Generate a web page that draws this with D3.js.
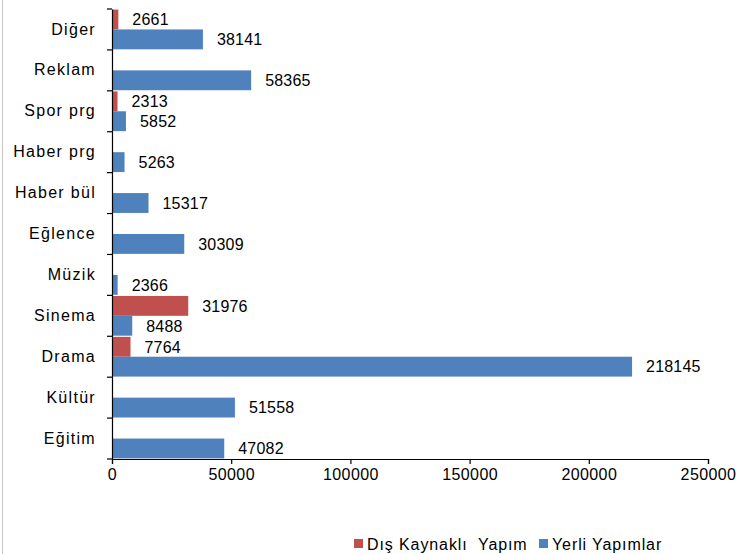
<!DOCTYPE html>
<html>
<head>
<meta charset="utf-8">
<script src="https://cdn.jsdelivr.net/npm/d3@7"></script>
<style>
  html, body { margin: 0; padding: 0; background: #fff; }
  svg { display: block; }
  text { font-family: "Liberation Sans", Arial, sans-serif; fill: #000; }
</style>
</head>
<body>
<svg id="chart" width="736" height="554"></svg>
<script>
const categories = ["Diğer", "Reklam", "Spor prg", "Haber prg", "Haber bül", "Eğlence", "Müzik", "Sinema", "Drama", "Kültür", "Eğitim"];
const disKaynakli = [2661, null, 2313, null, null, null, null, 31976, 7764, null, null];
const yerli = [38141, 58365, 5852, 5263, 15317, 30309, 2366, 8488, 218145, 51558, 47082];
const seriesNames = ["Dış Kaynaklı  Yapım", "Yerli Yapımlar"];
const xTicks = [0, 50000, 100000, 150000, 200000, 250000];
const colors = ["#C0504D", "#4F81BD"];

const svg = d3.select("#chart");
const margin = { left: 112, right: 28, top: 9, bottom: 95 };
const W = 736, H = 554;

// chart area left border
svg.append("line").attr("x1", 2.5).attr("x2", 2.5).attr("y1", 0).attr("y2", H)
  .attr("stroke", "#c8c8c8").attr("stroke-width", 1);

const x = d3.scaleLinear().domain([0, 250000]).range([margin.left, 708]);
const y = d3.scaleBand().domain(categories).range([margin.top, H - margin.bottom]).paddingInner(0).paddingOuter(0);
const sub = d3.scaleBand().domain([0, 1]).range([0, y.bandwidth()]).paddingOuter(0.03).paddingInner(0);

const series = [disKaynakli, yerli];
series.forEach((vals, si) => {
  const g = svg.append("g");
  const data = categories.map((c, i) => ({ c, v: vals[i] })).filter(d => d.v != null);
  g.selectAll("rect").data(data).enter().append("rect")
    .attr("x", x(0))
    .attr("y", d => y(d.c) + sub(si))
    .attr("width", d => x(d.v) - x(0))
    .attr("height", sub.bandwidth())
    .attr("fill", colors[si]);
  g.selectAll("text").data(data).enter().append("text")
    .attr("x", d => x(d.v) + 14)
    .attr("y", d => y(d.c) + sub(si) + sub.bandwidth() / 2)
    .attr("dy", "0.36em")
    .attr("font-size", 16)
    .attr("letter-spacing", "0.2px")
    .text(d => d.v);
});

// y axis
const yAxis = d3.axisLeft(y).tickSize(0).tickPadding(16);
const ya = svg.append("g").attr("transform", `translate(${margin.left},0)`).call(yAxis);
ya.select(".domain").attr("stroke", "#000").attr("stroke-width", 1.2);
ya.selectAll("text").attr("font-size", 16).attr("letter-spacing", "1.3px")
  .attr("font-family", "Liberation Sans, Arial, sans-serif").attr("fill", "#000");
// category boundary ticks
const bounds = categories.map(c => y(c)).concat([y.range()[1]]);
svg.append("g").selectAll("line").data(bounds).enter().append("line")
  .attr("x1", margin.left - 5).attr("x2", margin.left)
  .attr("y1", d => d).attr("y2", d => d)
  .attr("stroke", "#000").attr("stroke-width", 1.2);

// x axis
const xAxis = d3.axisBottom(x).tickValues(xTicks).tickSize(5).tickPadding(5).tickFormat(d3.format("d"));
const xa = svg.append("g").attr("transform", `translate(0,${H - margin.bottom})`).call(xAxis);
xa.select(".domain").attr("stroke", "#000").attr("stroke-width", 1.2);
xa.selectAll(".tick line").attr("stroke", "#000").attr("stroke-width", 1.2);
xa.selectAll("text").attr("font-size", 16).attr("letter-spacing", "0.4px")
  .attr("font-family", "Liberation Sans, Arial, sans-serif").attr("fill", "#000");

// legend
const legend = svg.append("g").attr("transform", "translate(354,544)");
const items = [{ name: seriesNames[0], color: colors[0], x: 0 }, { name: seriesNames[1], color: colors[1], x: 185 }];
items.forEach(it => {
  legend.append("rect").attr("x", it.x).attr("y", -5).attr("width", 9).attr("height", 9).attr("fill", it.color);
  legend.append("text").attr("x", it.x + 13).attr("y", 0).attr("dy", "0.36em")
    .attr("font-size", 16).attr("letter-spacing", "0.9px").style("white-space", "pre").text(it.name);
});
</script>
</body>
</html>
